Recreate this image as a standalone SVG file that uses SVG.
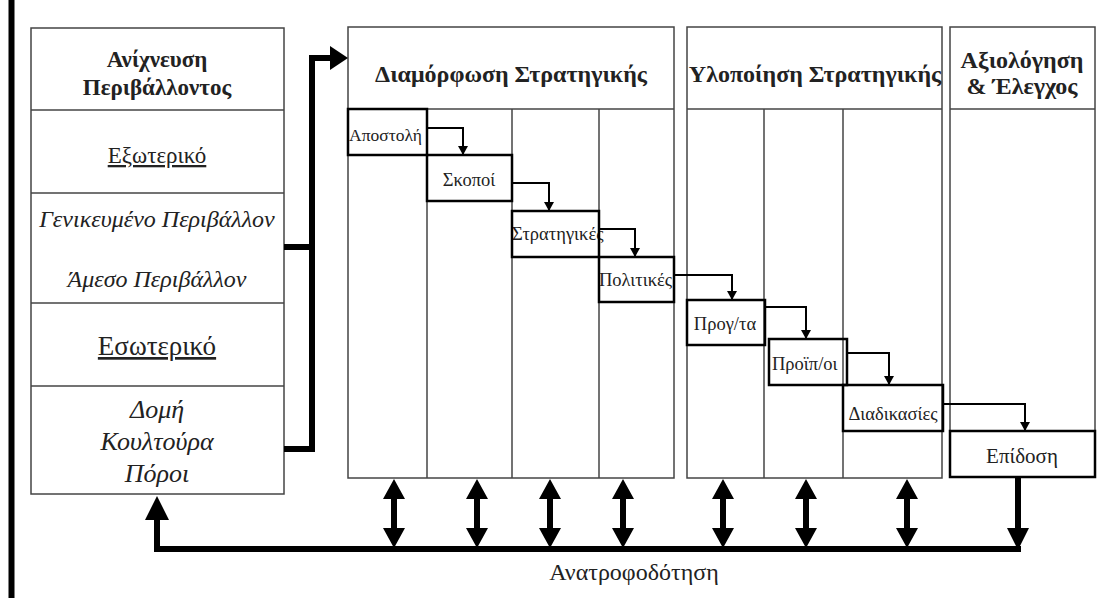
<svg xmlns="http://www.w3.org/2000/svg" width="1097" height="598" viewBox="0 0 1097 598">
<defs>
<style>
.panel{fill:none;stroke:#444;stroke-width:1.5}
.step{fill:none;stroke:#000;stroke-width:2.5}
.t{font-family:'Liberation Serif','DejaVu Serif',serif;fill:#222;text-anchor:middle}
.l{text-anchor:start}
.b{font-weight:bold}
.i{font-style:italic}
.u{text-decoration:underline}
.s{font-size:18.5px}
.el{fill:none;stroke:#000;stroke-width:2}
.thick{fill:none;stroke:#000;stroke-width:6}
.head{fill:#000}
</style>
<marker id="ah" markerUnits="userSpaceOnUse" markerWidth="9" markerHeight="10" refX="9" refY="5" orient="auto" viewBox="0 0 9 10">
<path d="M0,0 L9,5 L0,10 Z" fill="#000"/>
</marker>
</defs>
<rect width="1097" height="598" fill="#fff"/>
<line x1="11.5" y1="0" x2="11.5" y2="598" stroke="#000" stroke-width="6"/>

<g id="scanning">
<rect class="panel" x="31" y="28" width="253" height="466"/>
<line class="panel" x1="31" y1="110" x2="284" y2="110"/>
<line class="panel" x1="31" y1="193" x2="284" y2="193"/>
<line class="panel" x1="31" y1="303" x2="284" y2="303"/>
<line class="panel" x1="31" y1="386" x2="284" y2="386"/>
<text class="t b" x="157" y="67" font-size="23">Ανίχνευση</text>
<text class="t b" x="157" y="95" font-size="23">Περιβάλλοντος</text>
<text class="t u" x="157" y="163" font-size="23">Εξωτερικό</text>
<text class="t i" x="157" y="227" font-size="24">Γενικευμένο Περιβάλλον</text>
<text class="t i" x="157" y="287" font-size="24">Άμεσο Περιβάλλον</text>
<text class="t u" x="157" y="355" font-size="27">Εσωτερικό</text>
<text class="t i" x="157" y="418" font-size="26">Δομή</text>
<text class="t i" x="157" y="450" font-size="26">Κουλτούρα</text>
<text class="t i" x="157" y="482" font-size="26">Πόροι</text>
</g>

<g id="formulation">
<rect class="panel" x="348" y="27" width="326" height="451"/>
<line class="panel" x1="348" y1="109" x2="674" y2="109"/>
<line class="panel" x1="427" y1="109" x2="427" y2="478"/>
<line class="panel" x1="512" y1="109" x2="512" y2="478"/>
<line class="panel" x1="599" y1="109" x2="599" y2="478"/>
<text class="t b" x="511" y="82" font-size="24">Διαμόρφωση  Στρατηγικής</text>
</g>

<g id="implementation">
<rect class="panel" x="687" y="27" width="255" height="451"/>
<line class="panel" x1="687" y1="109" x2="942" y2="109"/>
<line class="panel" x1="764" y1="109" x2="764" y2="478"/>
<line class="panel" x1="843" y1="109" x2="843" y2="478"/>
<text class="t b" x="815" y="82" font-size="24">Υλοποίηση  Στρατηγικής</text>
</g>

<g id="evaluation">
<rect class="panel" x="950" y="27" width="145" height="404"/>
<line class="panel" x1="950" y1="109" x2="1095" y2="109"/>
<text class="t b" x="1022" y="68" font-size="24">Αξιολόγηση</text>
<text class="t b" x="1022" y="94" font-size="24">&amp; Έλεγχος</text>
</g>

<g id="mission">
<text class="t l" x="349" y="141" font-size="17.5">Αποστολή</text>
<rect class="step" x="348" y="109" width="79" height="46"/>
</g>
<g id="objectives">
<text class="t s" x="469" y="186">Σκοποί</text>
<rect class="step" x="427" y="155" width="85" height="46"/>
</g>
<g id="strategies">
<text class="t s l" x="512" y="240">Στρατηγικές</text>
<rect class="step" x="512" y="211" width="87" height="46"/>
</g>
<g id="policies">
<text class="t s l" x="599" y="286">Πολιτικές</text>
<rect class="step" x="599" y="257" width="75" height="45"/>
</g>
<g id="programs">
<text class="t s" x="725" y="330">Προγ/τα</text>
<rect class="step" x="687" y="300" width="78" height="45"/>
</g>
<g id="budgets">
<text class="t s l" x="772" y="370">Προϊπ/οι</text>
<rect class="step" x="769" y="339" width="78" height="46"/>
</g>
<g id="procedures">
<text class="t s" x="893" y="420">Διαδικασίες</text>
<rect class="step" x="843" y="385" width="100" height="46"/>
</g>
<g id="performance">
<text class="t" x="1022" y="463" font-size="21">Επίδοση</text>
<rect class="step" x="950" y="431" width="145" height="46"/>
</g>

<g id="connectors">
<path class="el" d="M427,128 H463 V155" marker-end="url(#ah)"/>
<path class="el" d="M512,183 H549 V211" marker-end="url(#ah)"/>
<path class="el" d="M599,229 H635 V257" marker-end="url(#ah)"/>
<path class="el" d="M674,275 H732 V300" marker-end="url(#ah)"/>
<path class="el" d="M765,307 H806 V339" marker-end="url(#ah)"/>
<path class="el" d="M847,353 H889 V385" marker-end="url(#ah)"/>
<path class="el" d="M943,404 H1025 V431" marker-end="url(#ah)"/>

<path class="thick" d="M284,247 H312"/>
<path class="thick" d="M284,449 H315 M312,452 V58 H332"/>
<polygon class="head" points="330,46 348,58 330,70"/>

<path class="thick" d="M1018,477 V530"/>
<polygon class="head" points="1007,528 1029,528 1018,550"/>
<path class="thick" d="M1021,549 H157 V518"/>
<polygon class="head" points="145,520 169,520 157,496"/>

<g class="head">
<path d="M394,479 L405,499 L397,499 L397,528 L405,528 L394,548 L383,528 L391,528 L391,499 L383,499 Z"/>
<path d="M477,479 L488,499 L480,499 L480,528 L488,528 L477,548 L466,528 L474,528 L474,499 L466,499 Z"/>
<path d="M550,479 L561,499 L553,499 L553,528 L561,528 L550,548 L539,528 L547,528 L547,499 L539,499 Z"/>
<path d="M623,479 L634,499 L626,499 L626,528 L634,528 L623,548 L612,528 L620,528 L620,499 L612,499 Z"/>
<path d="M723,479 L734,499 L726,499 L726,528 L734,528 L723,548 L712,528 L720,528 L720,499 L712,499 Z"/>
<path d="M806,479 L817,499 L809,499 L809,528 L817,528 L806,548 L795,528 L803,528 L803,499 L795,499 Z"/>
<path d="M907,479 L918,499 L910,499 L910,528 L918,528 L907,548 L896,528 L904,528 L904,499 L896,499 Z"/>
</g>
<text class="t" x="634" y="580" font-size="24">Ανατροφοδότηση</text>
</g>
</svg>
